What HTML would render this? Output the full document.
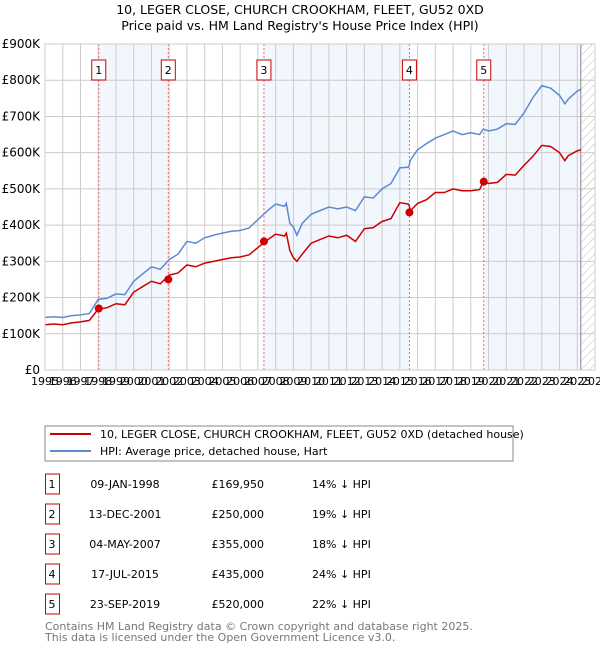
<!DOCTYPE html>
<html><head><meta charset="utf-8"><style>
body{margin:0;background:#fff;font-family:"DejaVu Sans","Liberation Sans",sans-serif;}
svg text{font-family:"DejaVu Sans","Liberation Sans",sans-serif;}
</style></head><body>
<svg id="c" width="600" height="650" viewBox="0 0 600 650" xmlns="http://www.w3.org/2000/svg">
<defs><pattern id="hatch" width="6" height="6" patternUnits="userSpaceOnUse" patternTransform="rotate(45)"><line x1="0" y1="0" x2="0" y2="6" stroke="#bbb" stroke-width="1"/></pattern></defs>
<text x="300" y="14" text-anchor="middle" font-size="12.5">10, LEGER CLOSE, CHURCH CROOKHAM, FLEET, GU52 0XD</text>
<text x="300" y="30" text-anchor="middle" font-size="12.5">Price paid vs. HM Land Registry's House Price Index (HPI)</text>
<g id="plot"></g>
<g>
<rect x="45" y="426" width="468" height="35" fill="#fff" stroke="#888"/>
<line x1="50" y1="434" x2="91" y2="434" stroke="#cc0000" stroke-width="2"/>
<text x="100" y="438" font-size="11">10, LEGER CLOSE, CHURCH CROOKHAM, FLEET, GU52 0XD (detached house)</text>
<line x1="50" y1="451" x2="91" y2="451" stroke="#5b8bd0" stroke-width="2"/>
<text x="100" y="455" font-size="11">HPI: Average price, detached house, Hart</text>
</g>
<g id="table"></g>
<text x="45" y="630" font-size="11" fill="#777">Contains HM Land Registry data © Crown copyright and database right 2025.</text>
<text x="45" y="641" font-size="11" fill="#777">This data is licensed under the Open Government Licence v3.0.</text>
</svg>
<script>
const hpiYears=[1995,1995.5,1996,1996.5,1997,1997.5,1998,1998.5,1999,1999.5,2000,2000.5,2001,2001.5,2002,2002.5,2003,2003.5,2004,2004.5,2005,2005.5,2006,2006.5,2007,2007.5,2008,2008.5,2008.6,2008.8,2009,2009.2,2009.5,2010,2010.5,2011,2011.5,2012,2012.5,2013,2013.5,2014,2014.5,2015,2015.5,2015.6,2016,2016.5,2017,2017.5,2018,2018.5,2019,2019.5,2019.7,2020,2020.5,2021,2021.5,2022,2022.5,2023,2023.5,2024,2024.3,2024.5,2025,2025.2];
const hpiValues=[145,147,145,150,152,156,195,198,210,208,245,265,285,278,305,320,355,350,365,372,378,383,385,392,415,438,458,452,460,405,395,372,405,430,440,450,445,450,440,478,475,500,515,558,560,580,608,625,640,650,660,650,655,650,665,660,665,680,678,710,752,785,778,758,735,748,770,775];
const ppYears=[1995,1995.5,1996,1996.5,1997,1997.5,1998,1998.5,1999,1999.5,2000,2000.5,2001,2001.5,2002,2002.5,2003,2003.5,2004,2004.5,2005,2005.5,2006,2006.5,2007,2007.5,2008,2008.5,2008.6,2008.8,2009,2009.2,2009.5,2010,2010.5,2011,2011.5,2012,2012.5,2013,2013.5,2014,2014.5,2015,2015.5,2015.6,2016,2016.5,2017,2017.5,2018,2018.5,2019,2019.5,2019.7,2020,2020.5,2021,2021.5,2022,2022.5,2023,2023.5,2024,2024.3,2024.5,2025,2025.2];
const ppValues=[125,127,125,130,133,137,168,172,183,180,215,230,245,238,262,268,290,285,295,300,305,310,312,318,338,358,375,370,378,330,310,300,320,350,360,370,365,372,355,390,393,410,418,462,458,440,460,470,490,490,500,495,495,498,520,515,518,540,538,565,590,620,617,600,578,592,605,608];
const saleYears=[1998.03,2001.95,2007.34,2015.54,2019.73];
const saleValues=[169950,250000,355000,435000,520000];
const saleLabels=["1","2","3","4","5"];
const saleDates=["09-JAN-1998","13-DEC-2001","04-MAY-2007","17-JUL-2015","23-SEP-2019"];
const salePrices=["£169,950","£250,000","£355,000","£435,000","£520,000"];
const saleDiffs=["14% ↓ HPI","19% ↓ HPI","18% ↓ HPI","24% ↓ HPI","22% ↓ HPI"];
const yTicks=[0,100,200,300,400,500,600,700,800,900];
const yTickLabels=["£0","£100K","£200K","£300K","£400K","£500K","£600K","£700K","£800K","£900K"];
const xTicks=[1995,1996,1997,1998,1999,2000,2001,2002,2003,2004,2005,2006,2007,2008,2009,2010,2011,2012,2013,2014,2015,2016,2017,2018,2019,2020,2021,2022,2023,2024,2025,2026];
const dataEnd=2025.2;

const L=45,R=595,T=44,B=370;
const x=y=>L+(y-1995)/(2026-1995)*(R-L);
const yv=k=>B-k/900*(B-T);
const NS="http://www.w3.org/2000/svg";
const g=document.getElementById('plot');
function mk(tag,attrs,parent){const e=document.createElementNS(NS,tag);for(const k in attrs)e.setAttribute(k,attrs[k]);(parent||g).appendChild(e);return e;}

const bandEdges=[saleYears[0],saleYears[1],saleYears[2],saleYears[3],saleYears[4],dataEnd];
for(let i=0;i<bandEdges.length-1;i+=2){
  const r=mk('rect',{x:x(bandEdges[i]),y:T,width:x(bandEdges[i+1])-x(bandEdges[i]),height:B-T,fill:'#eef3fc',opacity:0.75});
  
  
}
const h=mk('rect',{x:x(dataEnd),y:T,width:R-x(dataEnd),height:B-T,fill:'url(#hatch)'});


xTicks.forEach(t=>{
  const l=mk('line',{x1:x(t),x2:x(t),y1:T,y2:B,stroke:'#ccc','stroke-width':1});
  
  
  const tx=mk('text',{x:x(t),y:B+15,'font-size':11,'text-anchor':'middle'});
  tx.textContent=t;
  
  
});
yTicks.forEach((t,i)=>{
  const l=mk('line',{x1:L,x2:R,y1:yv(t),y2:yv(t),stroke:'#ccc','stroke-width':1});
  
  
  const tx=mk('text',{x:L-5,y:yv(t)+4,'font-size':12,'text-anchor':'end'});
  tx.textContent=yTickLabels[i];
  
  
});
const de=mk('line',{x1:x(dataEnd),x2:x(dataEnd),y1:T,y2:B,stroke:'#888','stroke-width':1});


saleYears.forEach((s,i)=>{
  const l=mk('line',{x1:x(s),x2:x(s),y1:T,y2:B,stroke:'#ff6666','stroke-width':1,'stroke-dasharray':'2,2'});
  
  
  const b=mk('rect',{x:x(s)-7,y:60,width:14,height:20,fill:'#fff',stroke:'#cc0000'});
  
  
  const tx=mk('text',{x:x(s),y:74,'font-size':11,'text-anchor':'middle'});
  tx.textContent=saleLabels[i];
  
  
});
const hp=mk('polyline',{points:hpiYears.map((t,i)=>x(t)+','+yv(hpiValues[i])).join(' '),fill:'none',stroke:'#5b8bd0','stroke-width':1.5});


const pp=mk('polyline',{points:ppYears.map((t,i)=>x(t)+','+yv(ppValues[i])).join(' '),fill:'none',stroke:'#cc0000','stroke-width':1.5});


saleYears.forEach((s,i)=>{
  const c=mk('circle',{cx:x(s),cy:yv(saleValues[i]/1000),r:4,fill:'#cc0000'});
  
  
});
mk('rect',{x:L,y:T,width:R-L,height:B-T,fill:'none',stroke:'#ccc'});
const tb=document.getElementById('table');
saleLabels.forEach((lab,i)=>{
  const cy=483+i*30;
  const b=mk('rect',{x:45.5,y:cy-9,width:14,height:20,fill:'#fff',stroke:'#cc0000'},tb);
  
  
  const cells=[[52,lab,'middle'],[125,saleDates[i],'middle'],[264,salePrices[i],'end'],[312,saleDiffs[i],'start']];
  const names=['table-sale-number','table-sale-date','table-sale-price','table-sale-hpi-diff'];
  cells.forEach((c,j)=>{
    const tx=mk('text',{x:c[0],y:cy+5,'font-size':11,'text-anchor':c[2]},tb);
    tx.textContent=c[1];
    
    
  });
});
</script>
</body></html>
